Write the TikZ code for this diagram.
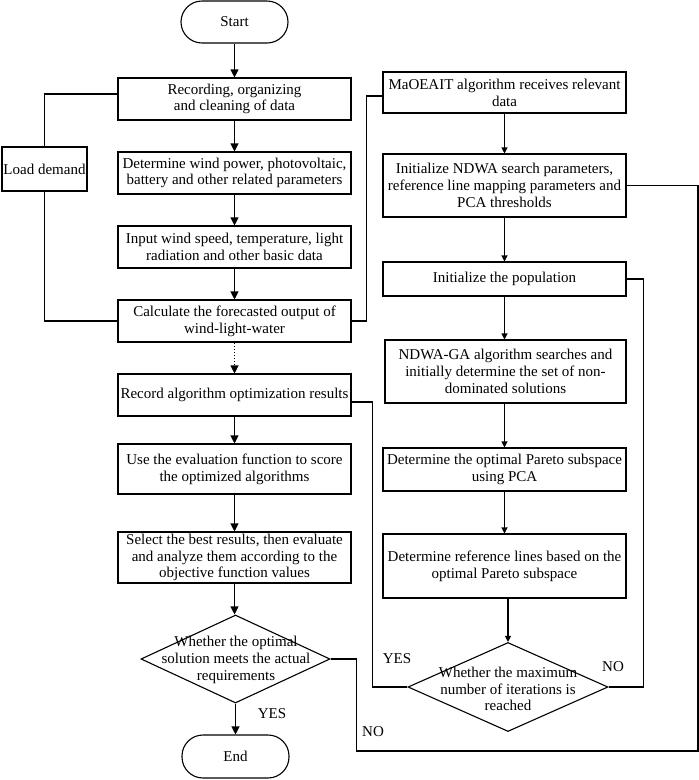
\documentclass[tikz,border=0pt]{standalone}
\usepackage{fontspec}
\setmainfont{Liberation Serif}
\usetikzlibrary{arrows.meta,shapes.geometric,calc}
\tikzset{
  txt/.style={align=center, inner sep=0pt, font=\fontsize{15}{16.8}\selectfont},
  box/.style={txt, draw, line width=1.1pt, inner sep=1pt},
  term/.style={box, rounded corners=21pt},
  dia/.style={draw, diamond, line width=1.1pt, inner sep=0pt},
  ln/.style={line width=1.1pt},
  arl/.style={ln, -{Triangle[length=8pt,width=8pt]}},
  arr/.style={ln, -{Triangle[length=6pt,width=6pt]}},
  lab/.style={txt}
}
\begin{document}
\begin{tikzpicture}[x=1pt,y=1pt]
\useasboundingbox (0,0) rectangle (699,-780);
% left column
\node[term, minimum width=107pt, minimum height=42pt] (start) at (234.5,-22) {Start};
\node[box, minimum width=233pt, minimum height=42pt] (rec) at (234.5,-99) {Recording, organizing\\and cleaning of data};
\node[box, minimum width=233pt, minimum height=42pt] (det) at (234.5,-173) {Determine wind power, photovoltaic,\\battery and other related parameters};
\node[box, minimum width=233pt, minimum height=42pt] (inp) at (234.5,-247) {Input wind speed, temperature, light\\radiation and other basic data};
\node[box, minimum width=233pt, minimum height=42pt] (calc) at (234.5,-321) {Calculate the forecasted output of\\wind-light-water};
\node[box, minimum width=233pt, minimum height=42pt] (res) at (234.5,-395) {Record algorithm optimization results};
\node[box, minimum width=233pt, minimum height=50pt] (eva) at (234.5,-469) {Use the evaluation function to score\\the optimized algorithms};
\node[box, minimum width=233pt, minimum height=51pt] (sel) at (234.5,-557.5) {Select the best results, then evaluate\\and analyze them according to the\\objective function values};
\node[dia, minimum width=189pt, minimum height=88pt] (d1) at (235.5,-659) {};
\node[txt] (d1t) at (236,-660) {Whether the optimal\\solution meets the actual\\requirements};
\node[term, minimum width=107pt, minimum height=43pt] (end) at (235.5,-756.5) {End};
\node[box, minimum width=85pt, minimum height=44pt] (ld) at (44.5,-169) {Load demand};
% right column
\node[box, minimum width=243pt, minimum height=41pt] (mao) at (504.5,-92.5) {MaOEAIT algorithm receives relevant\\data};
\node[box, minimum width=243pt, minimum height=63pt] (ini) at (504.5,-185.5) {Initialize NDWA search parameters,\\reference line mapping parameters and\\PCA thresholds};
\node[box, minimum width=243pt, minimum height=34pt] (pop) at (504.5,-279) {Initialize the population};
\node[box, minimum width=241pt, minimum height=63pt] (nga) at (505.5,-371.5) {NDWA-GA algorithm searches and\\initially determine the set of non-\\dominated solutions};
\node[box, minimum width=243pt, minimum height=43pt] (pca) at (504.5,-469.5) {Determine the optimal Pareto subspace\\using PCA};
\node[box, minimum width=243pt, minimum height=64pt] (ref) at (504.5,-566) {Determine reference lines based on the\\optimal Pareto subspace};
\node[dia, minimum width=200pt, minimum height=89pt] (d2) at (508,-687) {};
\node[txt] (d2t) at (508,-689) {Whether the maximum\\number of iterations is\\reached};
% corner
\coordinate (cNO) at (698,-751);
% left arrows
\draw[arl] (start.south) -- (rec.north);
\draw[arl] (rec.south) -- (det.north);
\draw[arl] (det.south) -- (inp.north);
\draw[arl] (inp.south) -- (calc.north);
\draw[arl, dotted] (calc.south) -- (res.north);
\draw[arl] (res.south) -- (eva.north);
\draw[arl] (eva.south) -- (sel.north);
\draw[arl] (sel.south) -- (sel.south |- d1.north);
\draw[arl] (d1.south) -- (end.north);
% right arrows
\draw[arr] (mao.south) -- (mao.south |- ini.north);
\draw[arr] (ini.south) -- (ini.south |- pop.north);
\draw[arr] (pop.south) -- (pop.south |- nga.north);
\draw[arr] (nga.south -| pca.north) -- (pca.north);
\draw[arr] (pca.south) -- (ref.north);
\draw[arr] (ref.south -| d2.north) -- (d2.north);
% lines
\draw[ln] ($(rec.west)+(0,5)$) -| (ld.north);
\draw[ln] (ld.south) |- (calc.west);
\draw[ln] (calc.east) -- ++(15,0) |- ($(mao.west)+(0,-3.5)$);
\draw[ln] (d1.east) -- ++(26,0) |- (cNO) |- (ini.east);
\draw[ln] (pop.east) -- ++(17,0) |- (d2.east);
\draw[ln] ($(res.east)+(0,-7)$) -- ++(21,0) |- (d2.west);
% labels
\node[lab] (yes1) at (272,-714) {YES};
\node[lab] (no1) at (373,-732) {NO};
\node[lab] (yes2) at (397,-659) {YES};
\node[lab] (no2) at (613,-667) {NO};
\end{tikzpicture}
\end{document}
